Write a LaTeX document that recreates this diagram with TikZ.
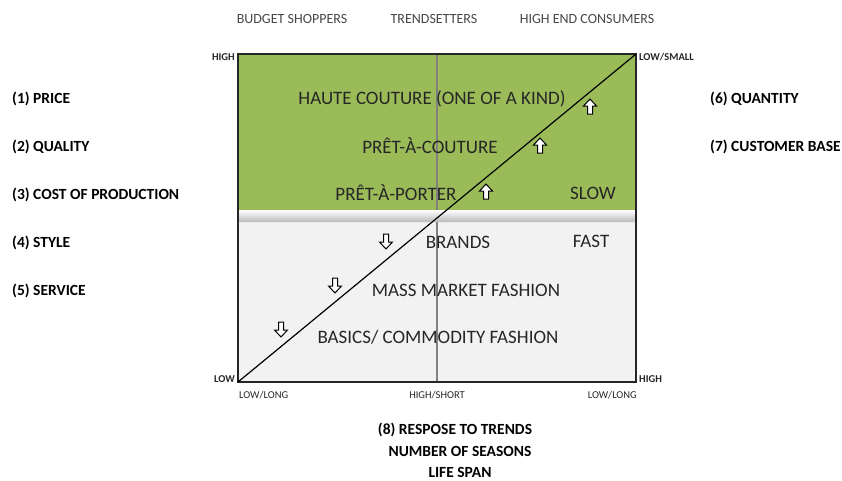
\documentclass[tikz,border=0pt]{standalone}
\usepackage{fontspec}
\setmainfont{Carlito}
\definecolor{olive}{RGB}{155,187,89}
\definecolor{paper}{RGB}{242,242,242}
\definecolor{ink}{RGB}{38,38,38}
\tikzset{
	axis/.style={font=\fontsize{10.5}{12}\selectfont,text=ink,inner sep=1pt},
	axisb/.style={axis,font=\fontsize{10.5}{12}\selectfont\bfseries},
	factor/.style={font=\fontsize{15.5}{18}\selectfont\bfseries,anchor=west,inner sep=0pt},
	segment/.style={font=\fontsize{19}{22}\selectfont,text=ink,inner sep=0pt},
	buyer/.style={font=\fontsize{14}{17}\selectfont,text=ink!85,inner sep=0pt},
	blockarrow/.style={draw=black,fill=white,line width=1pt,line join=miter}
}
\begin{document}
\begin{tikzpicture}[x=1pt,y=-1pt]
	\useasboundingbox (0,0) rectangle (842,480);
	% map areas
	\fill[olive] (238,54) rectangle (636,211);
	\fill[paper] (238,221) rectangle (636,382);
	\draw[gray,line width=1.2pt] (437,54) -- (437,382);
	\shade[top color=white,bottom color=gray!55,rounded corners=2pt] (238,210) rectangle (636,222);
	\draw[ink,line width=1.5pt] (238,54) rectangle (636,382);
	\coordinate (lo) at (238,382);
	\coordinate (hi) at (636,54);
	\draw[black,line width=1.2pt] (lo) -- (hi);
	% arrows along the diagonal
	\foreach \ax/\ay in {590/107,540/146,486/192}
		\draw[blockarrow] (\ax,\ay-8) -- (\ax+6.5,\ay-1) -- (\ax+2.5,\ay-1) -- (\ax+2.5,\ay+7)
			-- (\ax-2.5,\ay+7) -- (\ax-2.5,\ay-1) -- (\ax-6.5,\ay-1) -- cycle;
	\foreach \ax/\ay in {386/241,335/285,281/329}
		\draw[blockarrow] (\ax,\ay+8) -- (\ax+6.5,\ay+1) -- (\ax+2.5,\ay+1) -- (\ax+2.5,\ay-7)
			-- (\ax-2.5,\ay-7) -- (\ax-2.5,\ay+1) -- (\ax-6.5,\ay+1) -- cycle;
	% segments
	\node[segment] (haute) at (432,99) {HAUTE COUTURE (ONE OF A KIND)};
	\node[segment] (couture) at (430,146) {PRÊT-À-COUTURE};
	\node[segment] (porter) at (396,193) {PRÊT-À-PORTER};
	\node[segment] (slow) at (593,193) {SLOW};
	\node[segment] (brands) at (458,242) {BRANDS};
	\node[segment] (fast) at (591,241) {FAST};
	\node[segment] (mass) at (466,290) {MASS MARKET FASHION};
	\node[segment] (basics) at (438,337) {BASICS/ COMMODITY FASHION};
	% corner and axis labels
	\node[axisb,anchor=east] (tl) at (236,57) {HIGH};
	\node[axisb,anchor=west] (tr) at (638,57) {LOW/SMALL};
	\node[axisb,anchor=east] (bl) at (236,379) {LOW};
	\node[axisb,anchor=west] (br) at (638,379) {HIGH};
	\node[axis,anchor=west] (xl) at (238,395) {LOW/LONG};
	\node[axis] (xm) at (437,395) {HIGH/SHORT};
	\node[axis,anchor=east] (xr) at (638,395) {LOW/LONG};
	% consumers
	\node[buyer] (budget) at (292,19) {BUDGET SHOPPERS};
	\node[buyer] (trend) at (434,19) {TRENDSETTERS};
	\node[buyer] (highend) at (587,19) {HIGH END CONSUMERS};
	% factors
	\foreach \fy/\ft in {99/(1) PRICE,147/(2) QUALITY,195/(3) COST OF PRODUCTION,243/(4) STYLE,291/(5) SERVICE}
		\node[factor] at (12,\fy) {\ft};
	\node[factor] (qty) at (710,99) {(6) QUANTITY};
	\node[factor] (cust) at (710,147) {(7) CUSTOMER BASE};
	\node[factor,anchor=center] (resp) at (455,430) {(8) RESPOSE TO TRENDS};
	\node[factor,anchor=center] (seasons) at (460,451) {NUMBER OF SEASONS};
	\node[factor,anchor=center] (life) at (460,472) {LIFE SPAN};
\end{tikzpicture}
\end{document}
